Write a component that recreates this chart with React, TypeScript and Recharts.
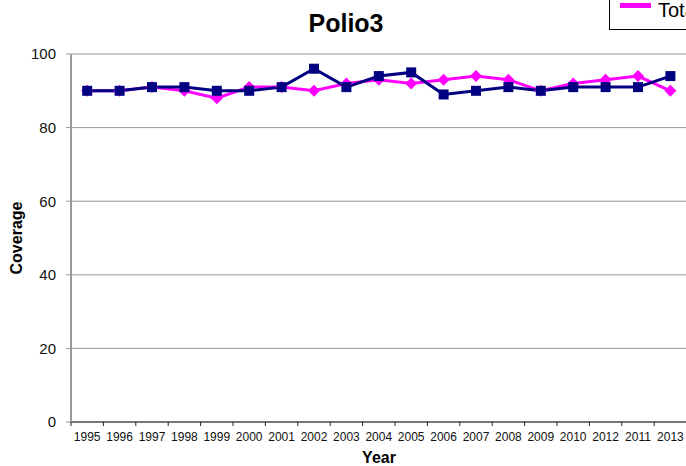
import React from "react";
import { CartesianGrid, Legend, Line, LineChart, XAxis, YAxis } from "recharts";

const years = [
  "1995", "1996", "1997", "1998", "1999", "2000", "2001", "2002", "2003", "2004",
  "2005", "2006", "2007", "2008", "2009", "2010", "2012", "2011", "2013"
];
const total = [90, 90, 91, 90, 88, 91, 91, 90, 92, 93, 92, 93, 94, 93, 90, 92, 93, 94, 90];
const rural = [90, 90, 91, 91, 90, 90, 91, 96, 91, 94, 95, 89, 90, 91, 90, 91, 91, 91, 94];
const yTicks = [0, 20, 40, 60, 80, 100];

const data = years.map((year, i) => ({ year, total: total[i], rural: rural[i] }));

const FONT = '"Liberation Sans", Arial, sans-serif';
const CHART_W = 700;
const CHART_H = 466;
const MARGIN = { top: 54, right: 13.4, left: 0, bottom: 0 };
const Y_AXIS_W = 71;
const PLOT_W = CHART_W - MARGIN.left - MARGIN.right - Y_AXIS_W;
const BAND = PLOT_W / years.length;

const XTick = (props: any) => {
  const { x, y, payload } = props;
  const half = BAND / 2;
  return (
    <g>
      <line x1={x - half} x2={x - half} y1={y - 10} y2={y - 6} stroke="#222" />
      <text x={x} y={y} dy="0.71em" textAnchor="middle" fontSize={12} fill="#111" fontFamily={FONT}>
        {payload.value}
      </text>
    </g>
  );
};

const SquareDot = (props: any) => {
  const { cx, cy, index } = props;
  if (cx == null || cy == null) return <g key={index} />;
  return <rect key={index} x={cx - 5} y={cy - 5} width={10} height={10} fill="#000080" />;
};

const DiamondDot = (props: any) => {
  const { cx, cy, index } = props;
  if (cx == null || cy == null) return <g key={index} />;
  return (
    <polygon
      key={index}
      points={`${cx},${cy - 6} ${cx + 6},${cy} ${cx},${cy + 6} ${cx - 6},${cy}`}
      fill="#FF00FF"
    />
  );
};

const LegendBox = () => (
  <div
    style={{
      position: "relative",
      width: 200,
      height: 40,
      border: "1.5px solid #000",
      background: "#fff",
      fontFamily: FONT
    }}
  >
    <div style={{ position: "absolute", left: 10, top: 13.5, width: 31, height: 5, background: "#FF00FF" }} />
    <div style={{ position: "absolute", left: 48, top: 9.5, fontSize: 20, lineHeight: "22px", color: "#000" }}>
      Total
    </div>
    <div style={{ position: "absolute", left: 115, top: 13.5, width: 31, height: 5, background: "#000080" }} />
    <div style={{ position: "absolute", left: 153, top: 9.5, fontSize: 20, lineHeight: "22px", color: "#000" }}>
      Rural
    </div>
  </div>
);

export default function App() {
  return (
    <div
      style={{
        position: "absolute",
        left: 0,
        top: 0,
        width: 686,
        height: 466,
        overflow: "hidden",
        background: "#fff",
        fontFamily: FONT
      }}
    >
      <LineChart width={CHART_W} height={CHART_H} data={data} margin={MARGIN}>
        <CartesianGrid vertical={false} stroke="#999" />
        <XAxis
          dataKey="year"
          height={44}
          interval={0}
          padding={{ left: BAND / 2, right: BAND / 2 }}
          tickSize={4}
          tickMargin={6}
          tickLine={false}
          axisLine={{ stroke: "#222" }}
          tick={<XTick />}
        />
        <YAxis
          width={Y_AXIS_W}
          domain={[0, 100]}
          ticks={yTicks}
          tickSize={5}
          tickMargin={10}
          axisLine={{ stroke: "#999", strokeWidth: 2 }}
          tickLine={{ stroke: "#999" }}
          tick={{ fontSize: 15, fill: "#111", fontFamily: FONT }}
        />
        <Legend
          layout="horizontal"
          align="center"
          verticalAlign="middle"
          content={<LegendBox />}
          wrapperStyle={{ position: "absolute", left: 609, top: -12, width: 200 }}
        />
        <Line
          type="linear"
          dataKey="total"
          name="Total"
          stroke="#FF00FF"
          strokeWidth={3}
          dot={DiamondDot}
          activeDot={false}
          isAnimationActive={false}
        />
        <Line
          type="linear"
          dataKey="rural"
          name="Rural"
          stroke="#000080"
          strokeWidth={3}
          dot={SquareDot}
          activeDot={false}
          isAnimationActive={false}
        />
      </LineChart>
      <div
        style={{
          position: "absolute",
          left: 0,
          width: 692,
          top: 10.8,
          textAlign: "center",
          fontSize: 25,
          fontWeight: "bold",
          lineHeight: 1,
          color: "#000"
        }}
      >
        Polio3
      </div>
      <div
        style={{
          position: "absolute",
          left: 17 - 50,
          top: 238 - 10,
          width: 100,
          height: 20,
          lineHeight: "20px",
          textAlign: "center",
          fontSize: 16,
          fontWeight: "bold",
          transform: "rotate(-90deg)",
          color: "#000"
        }}
      >
        Coverage
      </div>
      <div
        style={{
          position: "absolute",
          left: 379 - 50,
          top: 449.5,
          width: 100,
          lineHeight: "16px",
          textAlign: "center",
          fontSize: 16,
          fontWeight: "bold",
          color: "#000"
        }}
      >
        Year
      </div>
    </div>
  );
}
